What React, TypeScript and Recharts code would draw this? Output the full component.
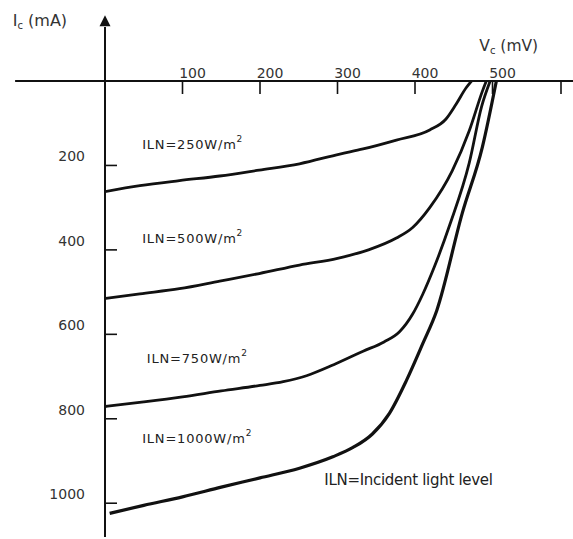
import React from 'react';
import { LineChart, Line, XAxis, YAxis, ReferenceLine, ReferenceDot } from 'recharts';

// tick values / labels
const xTicks = [100, 200, 300, 400, 500, 600];
const xTickLabels = ['100', '200', '300', '400', '500', ''];
const yTicks = [200, 400, 600, 800, 1000];
const yTickLabels = ['200', '400', '600', '800', '1000'];

// I-V curves (V in mV, I in mA)
const v250 = [0, 45, 96, 148, 199, 251, 303, 333, 376, 419, 440, 453, 466, 473];
const i250 = [262, 248, 236, 225, 211, 196, 173, 161, 140, 116, 90, 55, 16, 0];

const v500 = [0, 45, 96, 148, 199, 251, 300, 340, 376, 397, 419, 448, 470, 487, 492];
const i500 = [515, 504, 492, 474, 456, 436, 420, 400, 372, 347, 300, 213, 118, 24, 0];

const v750 = [0, 50, 100, 150, 200, 230, 260, 295, 333, 360, 380, 397, 410, 425, 445, 470, 486, 497];
const i750 = [771, 760, 748, 734, 721, 712, 698, 672, 640, 618, 594, 552, 505, 440, 340, 194, 60, 0];

const v1000 = [6, 50, 100, 150, 200, 251, 294, 320, 345, 367, 389, 410, 428, 461, 487, 505];
const i1000 = [1024, 1005, 985, 962, 940, 917, 890, 868, 836, 787, 709, 622, 544, 313, 156, 0];

const toPoints = (v: number[], i: number[]) => v.map((x, k) => ({ v: x, i: i[k] }));

const curves = [
  { key: '250', pts: toPoints(v250, i250), width: 2.8 },
  { key: '500', pts: toPoints(v500, i500), width: 2.8 },
  { key: '750', pts: toPoints(v750, i750), width: 2.8 },
  { key: '1000', pts: toPoints(v1000, i1000), width: 3.2 },
];

const curveLabels = [
  { v: 48, i: 161, text: 'ILN=250W/m' },
  { v: 48, i: 383, text: 'ILN=500W/m' },
  { v: 54, i: 667, text: 'ILN=750W/m' },
  { v: 48, i: 858, text: 'ILN=1000W/m' },
];

const FONT = '"DejaVu Sans", sans-serif';

const XTick = (props: any) => {
  const { x, y, payload } = props;
  const label = xTickLabels[xTicks.indexOf(payload.value)];
  return (
    <g>
      <line x1={x} y1={y} x2={x} y2={y + 13} stroke="#111" strokeWidth={1.6} />
      <text x={x + 10} y={y - 3} textAnchor="middle" fontSize={14} fontFamily={FONT} fill="#333">
        {label}
      </text>
    </g>
  );
};

const YTick = (props: any) => {
  const { x, y, payload } = props;
  const label = yTickLabels[yTicks.indexOf(payload.value)];
  return (
    <g>
      <line x1={x} y1={y} x2={x + 12} y2={y} stroke="#111" strokeWidth={1.6} />
      <text x={x - 20} y={y - 4} textAnchor="end" fontSize={14} fontFamily={FONT} fill="#333">
        {label}
      </text>
    </g>
  );
};

export default function App() {
  return (
    <div style={{ position: 'absolute', left: 0, top: 0, background: '#fff' }}>
      <LineChart width={573} height={539} margin={{ top: 51, right: 3, bottom: 2, left: 45 }}>
        <XAxis
          type="number"
          dataKey="v"
          orientation="top"
          domain={[0, 600]}
          ticks={xTicks}
          height={30}
          axisLine={false}
          tickLine={false}
          tickSize={0}
          tickMargin={0}
          tick={<XTick />}
          allowDataOverflow
        />
        <YAxis
          type="number"
          dataKey="i"
          domain={[0, 1080]}
          reversed
          ticks={yTicks}
          width={60}
          axisLine={false}
          tickLine={false}
          tickSize={0}
          tickMargin={0}
          tick={<YTick />}
          allowDataOverflow
        />
        <ReferenceLine
          segment={[{ x: -116, y: 0 }, { x: 604, y: 0 }]}
          stroke="#111"
          strokeWidth={2}
          ifOverflow="visible"
        />
        <ReferenceLine
          segment={[{ x: 0, y: -128 }, { x: 0, y: 1080 }]}
          stroke="#111"
          strokeWidth={2}
          ifOverflow="visible"
        />
        <ReferenceDot
          x={0}
          y={-156}
          ifOverflow="visible"
          shape={(p: any) => (
            <polygon
              points={`${p.cx},${p.cy} ${p.cx - 5.5},${p.cy + 11} ${p.cx + 5.5},${p.cy + 11}`}
              fill="#111"
            />
          )}
        />
        {curves.map((c) => (
          <Line
            key={c.key}
            data={c.pts}
            dataKey="i"
            type="monotone"
            stroke="#111"
            strokeWidth={c.width}
            dot={false}
            activeDot={false}
            isAnimationActive={false}
          />
        ))}
        {curveLabels.map((l) => (
          <ReferenceDot
            key={l.text}
            x={l.v}
            y={l.i}
            ifOverflow="visible"
            shape={(p: any) => (
              <text x={p.cx} y={p.cy} fontSize={13} letterSpacing={0.8} fontFamily={FONT} fill="#222">
                {l.text}
                <tspan dy={-7} fontSize={9}>2</tspan>
              </text>
            )}
          />
        ))}
        <ReferenceDot
          x={283}
          y={958}
          ifOverflow="visible"
          shape={(p: any) => (
            <text x={p.cx} y={p.cy} fontSize={15} fontFamily={FONT} fill="#222" letterSpacing={-0.3}>
              ILN=Incident light level
            </text>
          )}
        />
        <ReferenceDot
          x={-119}
          y={-130}
          ifOverflow="visible"
          shape={(p: any) => (
            <text x={p.cx} y={p.cy} fontSize={16} fontFamily={FONT} fill="#333">
              I<tspan dy={3} fontSize={10}>c</tspan>
              <tspan dy={-3}> (mA)</tspan>
            </text>
          )}
        />
        <ReferenceDot
          x={483}
          y={-71}
          ifOverflow="visible"
          shape={(p: any) => (
            <text x={p.cx} y={p.cy} fontSize={15.5} fontFamily={FONT} fill="#333">
              V<tspan dy={3} fontSize={10}>c</tspan>
              <tspan dy={-3}> (mV)</tspan>
            </text>
          )}
        />
      </LineChart>
    </div>
  );
}
